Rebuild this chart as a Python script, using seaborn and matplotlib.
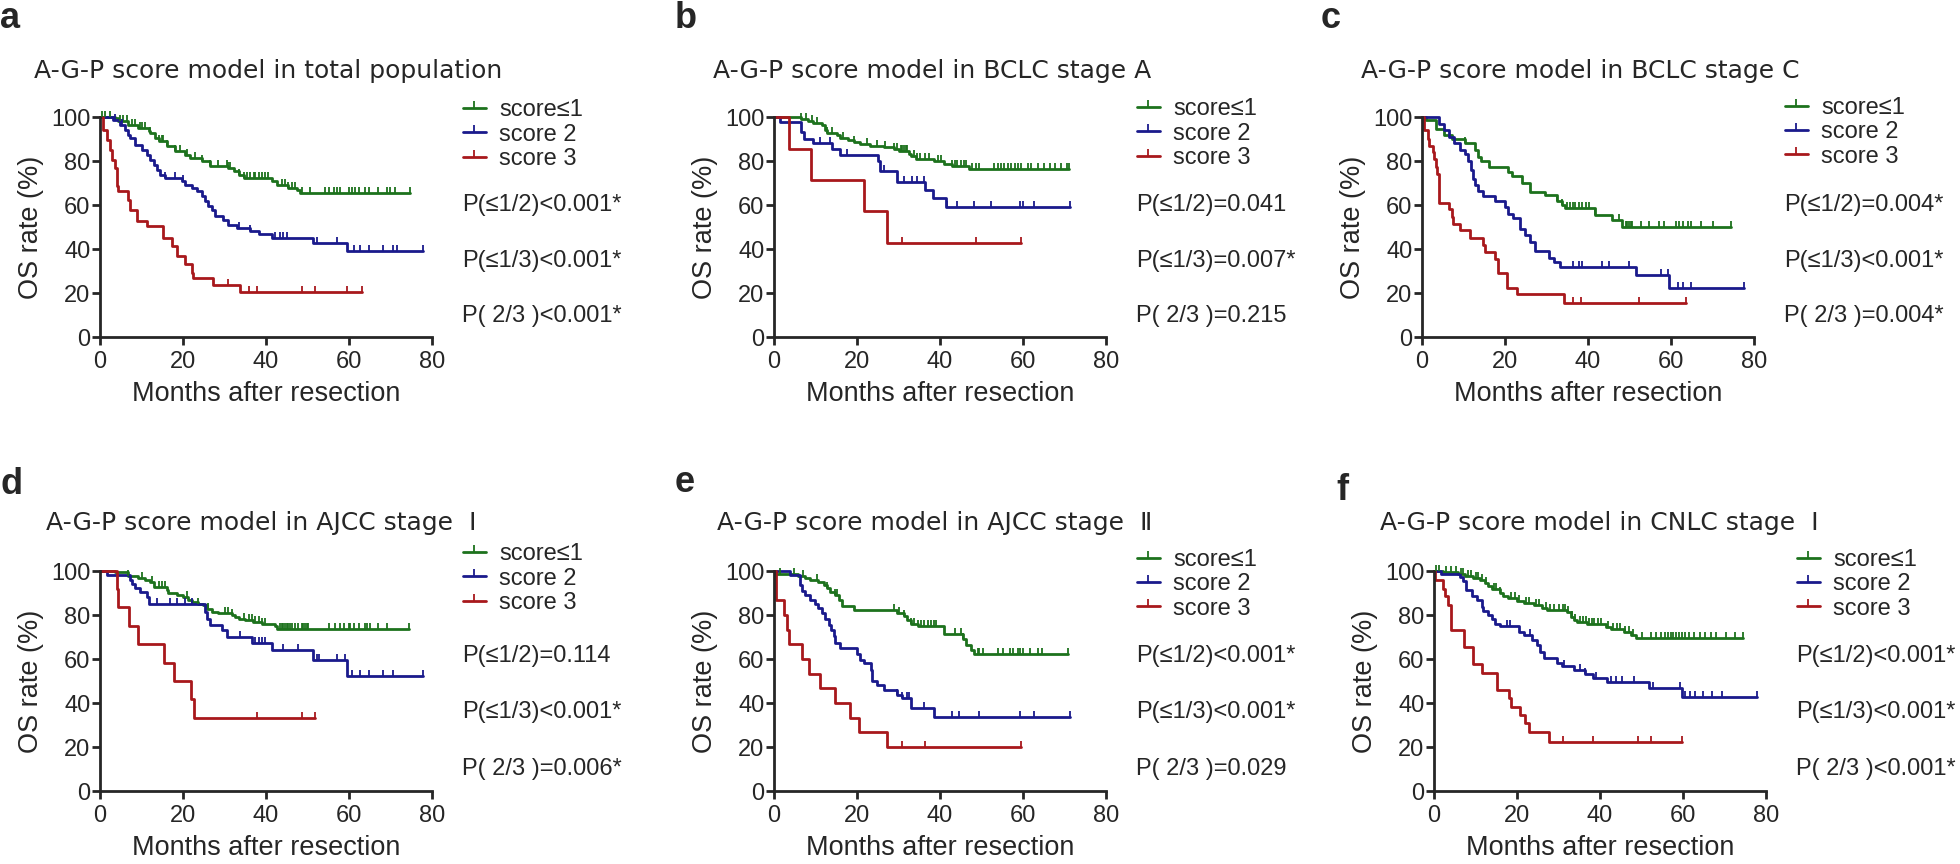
import numpy as np
import pandas as pd
import matplotlib.pyplot as plt
from matplotlib.lines import Line2D
import seaborn as sns

# ---- data (months, OS %) ----
GROUPS = ["score\u22641", "score 2", "score 3"]
COLORS = ["#1d721d", "#1a1a8c", "#a8181c"]

# a: total population
a_g1_t = [0, 3.6, 4.4, 6.8, 9.2, 11.7, 12.1, 13.3, 14.1, 16.1, 18.1, 20.5, 21.7, 24.5, 26.5, 30.9, 32.2, 33.4, 34.6, 41.4, 42.6, 45.4, 47.4, 48.2, 74.6]
a_g1_s = [100, 99.5, 98, 96.5, 95, 93.5, 92.7, 90.5, 89, 86.7, 84.4, 82.9, 81.4, 79.9, 77.6, 76.9, 75.3, 73.8, 72.3, 70.8, 69.3, 67.8, 66.7, 65.5, 65.5]
a_g1_c = [0.4, 1.2, 2.4, 4.8, 5.6, 6.4, 7.6, 8.4, 9.6, 10.0, 10.9, 12.1, 14.1, 14.9, 15.3, 16.1, 18.1, 19.3, 20.9, 22.9, 24.5, 26.5, 28.5, 30.5, 30.9, 31.4, 33.4, 34.6, 35.4, 36.2, 37.0, 37.4, 38.2, 39.0, 39.8, 40.6, 43.8, 44.6, 45.4, 46.2, 47.0, 48.6, 50.6, 54.3, 55.1, 56.3, 57.1, 57.9, 59.9, 60.7, 61.5, 62.3, 63.9, 64.7, 67.1, 69.1, 69.9, 71.1, 74.6]
a_g2_t = [0, 3.2, 4.8, 6, 6.8, 7.2, 8.4, 10, 11.3, 12, 12.9, 13.7, 14.5, 15.7, 19.7, 20.5, 22.1, 23.3, 24.5, 25.3, 26.1, 26.9, 27.7, 29.7, 30.9, 33, 36.2, 38.2, 41.4, 51.4, 59.5, 77.8]
a_g2_s = [100, 98.8, 96.5, 94.3, 92, 90.5, 87.4, 85.2, 82.9, 80.6, 78.4, 76.1, 73.8, 72.3, 70.8, 69.3, 67.8, 66.3, 64, 61.7, 59.5, 57.9, 54.9, 53.4, 51.1, 49.6, 48.1, 46.6, 45.1, 42.8, 39, 39]
a_g2_c = [3.6, 5.2, 15.7, 18.1, 20.1, 33.4, 36.2, 42.2, 43.4, 44.2, 45.0, 52.3, 57.1, 61.1, 62.7, 64.7, 68.3, 70.7, 71.5, 77.8]
a_g3_t = [0, 0.8, 1.6, 2.4, 2.8, 3.6, 4.0, 4.4, 6.8, 7.2, 8.8, 11.3, 15.3, 17.3, 18.5, 20.5, 22.1, 22.5, 27.3, 33.8, 63.1]
a_g3_s = [100, 94.3, 89.7, 85.2, 80.6, 76.9, 68.5, 66.3, 62.5, 57.9, 52.6, 50.4, 45.1, 41.3, 36.8, 33, 29.2, 26.6, 23.6, 20.4, 20.4]
a_g3_c = [30.9, 35.8, 37.9, 48.6, 51.8, 59.5, 63.1]

# b: BCLC stage A
b_g1_t = [0, 6.6, 8.2, 9.5, 11.5, 12.3, 12.7, 15.1, 15.9, 17.9, 19.2, 20.8, 23.2, 26.4, 28.9, 30.1, 32.5, 32.9, 34.1, 38.6, 41, 43, 47, 71.2]
b_g1_s = [100, 99.2, 98.2, 97.2, 96.2, 94.3, 92.7, 92, 90.5, 89.4, 88.7, 87.7, 87, 86.2, 85.5, 84.4, 83.4, 82.1, 81.1, 79.9, 78.8, 77.6, 76.4, 76.4]
b_g1_c = [6.6, 7.8, 9.1, 10.3, 12.7, 13.9, 16.7, 19.2, 22.4, 24.8, 26.8, 28.9, 29.7, 30.5, 30.9, 31.3, 31.7, 32.1, 33.7, 34.5, 35.3, 36.5, 37.3, 39.4, 40.2, 43.0, 43.6, 44.2, 45.0, 45.8, 46.2, 47.8, 48.7, 49.5, 53.1, 53.9, 54.7, 55.5, 56.3, 57.2, 58.0, 58.8, 59.6, 61.2, 62.0, 63.5, 65.0, 66.6, 67.6, 69.2, 70.7, 71.2]
b_g2_t = [0, 1.4, 6.6, 7.2, 9.5, 13.9, 15.8, 25, 25.6, 29.7, 36.5, 38.2, 41.4, 71.4]
b_g2_s = [100, 97.5, 93, 90.2, 88, 85.5, 82.7, 79.9, 75.3, 70.4, 66.6, 63.1, 59.2, 59.2]
b_g2_c = [11.1, 13.5, 17.5, 26.4, 31.3, 33.3, 34.5, 36.1, 41.8, 44.2, 48.2, 52.3, 59.3, 60.0, 62.6, 71.4]
b_g3_t = [0, 3.6, 8.9, 21.7, 27.2, 59.5]
b_g3_s = [100, 85.5, 71.3, 57.1, 42.8, 42.8]
b_g3_c = [30.9, 48.7, 59.5]

# c: BCLC stage C
c_g1_t = [0, 1, 3.4, 5.4, 7.2, 10.3, 12.7, 13.5, 14.3, 16.1, 20.8, 21.6, 24, 26, 29.7, 32.5, 33.7, 34.5, 41.8, 45.8, 48.3, 74.4]
c_g1_s = [100, 98.6, 94.5, 92, 90, 88, 85, 82, 80, 77.5, 75, 73, 70, 66, 64.5, 62, 60, 58.5, 55.5, 53, 50.2, 50.2]
c_g1_c = [10.3, 32.5, 33.7, 34.9, 35.7, 36.5, 36.9, 37.8, 38.6, 39.4, 40.2, 41.8, 47.5, 49.1, 49.5, 49.9, 50.3, 50.7, 52.7, 54.7, 57.2, 58.4, 61.2, 62.0, 62.8, 64.0, 64.8, 67.3, 70.1, 74.4]
c_g2_t = [0, 4.2, 5.4, 6.6, 7.8, 9.1, 10.3, 11.1, 11.9, 12.3, 12.7, 13.5, 14.7, 17.5, 20, 20.8, 22, 23.6, 24.8, 26, 27.2, 30.5, 31.7, 33.3, 51.5, 59.6, 77.6]
c_g2_s = [100, 97, 94, 91, 88, 85, 83, 80, 76, 72, 69, 66.5, 64, 62, 59, 56, 54, 49, 46.5, 43, 39, 36, 34, 32, 28, 22.5, 22.5]
c_g2_c = [36.5, 37.8, 38.6, 43.4, 45.0, 49.9, 57.6, 59.2, 61.6, 62.8, 64.8, 77.6]
c_g3_t = [0, 0.6, 1.4, 1.8, 2.6, 3, 3.4, 3.6, 4, 4.2, 6.6, 7.2, 7.4, 9.1, 11.5, 14.7, 15.3, 17.5, 18.2, 20.6, 22.8, 34.1, 63.5]
c_g3_s = [100, 94, 90, 87, 84, 81, 77.5, 74, 68, 61, 58, 54.5, 51.5, 48.5, 45, 42, 38.5, 35.5, 29, 22.5, 19.5, 15.5, 15.5]
c_g3_c = [36.3, 38.2, 52.3, 63.5]

# d: AJCC stage I
d_g1_t = [0, 3.6, 6.8, 9.2, 10.9, 12, 12.9, 16.1, 16.5, 18.5, 20.1, 21.3, 22.1, 23.7, 24.9, 25.7, 26.9, 28.5, 31.8, 32.6, 33.4, 35, 36.8, 39, 42.2, 42.6, 74.4]
d_g1_s = [100, 99.5, 97.9, 97, 95.9, 94.8, 92.8, 91.3, 89.8, 89, 88, 87, 86, 85.2, 84.5, 82.6, 81.4, 80.7, 79.9, 79.1, 78.4, 77.6, 76.9, 76.1, 74.9, 73.8, 73.8]
d_g1_c = [6.8, 10.0, 12.5, 14.1, 14.9, 15.7, 20.9, 23.7, 26.1, 30.1, 30.9, 31.8, 34.6, 35.8, 36.6, 37.4, 38.2, 39.0, 39.8, 43.4, 43.8, 44.2, 44.6, 45.0, 45.4, 45.8, 46.2, 47.0, 47.8, 48.6, 49.0, 49.4, 49.8, 50.2, 55.1, 56.7, 57.9, 58.7, 59.9, 60.3, 61.1, 62.3, 63.9, 64.3, 65.1, 67.1, 69.1, 74.4]
d_g2_t = [0, 1.8, 7.2, 7.6, 8.4, 9.6, 11.3, 11.7, 25.3, 25.7, 26.5, 29.3, 30.5, 36.6, 41.4, 51.4, 59.5, 77.8]
d_g2_s = [100, 98, 95.9, 93.9, 92.1, 90.6, 88.3, 84.8, 81.4, 78.4, 75.3, 73.1, 70, 67.3, 63.9, 59.7, 52.2, 52.2]
d_g2_c = [13.7, 16.9, 18.5, 20.5, 22.1, 33.8, 37.4, 38.2, 39.0, 39.8, 44.2, 47.8, 52.3, 52.7, 57.1, 59.1, 60.7, 62.7, 64.7, 68.3, 70.7, 77.8]
d_g3_t = [0, 4, 4.3, 7.1, 9.1, 15.5, 17.9, 21.9, 22.6, 51.8]
d_g3_s = [100, 92, 83.7, 75, 66.7, 58.3, 49.9, 41.6, 33.3, 33.3]
d_g3_c = [37.9, 48.6, 51.8]

# e: AJCC stage II
e_g1_t = [0, 0.6, 5.9, 7.5, 8.7, 10.5, 12, 12.8, 13.6, 14.8, 15.6, 16.4, 19.2, 29.7, 31.3, 32.1, 33, 34.6, 41, 45.5, 46.3, 47.5, 48.3, 70.9]
e_g1_s = [100, 98.5, 97.6, 96.8, 95.7, 94.8, 93.6, 92.1, 90.6, 89, 86.8, 84.2, 82.5, 81, 79.5, 77.6, 75.9, 74.9, 71.5, 69.3, 66.2, 63.9, 62.4, 62.4]
e_g1_c = [1.5, 4.7, 7.1, 10.3, 12.8, 14.8, 15.2, 28.9, 30.1, 31.3, 33.0, 33.8, 34.6, 35.4, 36.2, 37.0, 37.8, 38.6, 39.0, 43.5, 45.1, 45.5, 49.1, 49.5, 50.3, 54.0, 55.2, 56.8, 57.6, 58.8, 59.2, 60.0, 61.6, 63.6, 64.6, 70.9]
e_g2_t = [0, 3.9, 6.3, 6.7, 7.5, 8.7, 9.9, 10.7, 11.6, 12.4, 13.2, 13.7, 14.4, 14.8, 16, 20, 20.8, 21.6, 23.3, 23.7, 24.9, 26.5, 29.7, 30.9, 33, 38.6, 71.3]
e_g2_s = [100, 98, 93.6, 90.9, 89, 86.8, 84.8, 83, 80.7, 78.4, 75.3, 73.1, 70.3, 67.3, 65.1, 62.4, 59.7, 58.1, 54.8, 50.2, 48.2, 46, 43.8, 42.2, 37.6, 33.8, 33.8]
e_g2_c = [29.7, 30.9, 32.1, 32.5, 36.2, 42.8, 44.6, 49.4, 59.2, 62.6, 71.3]
e_g3_t = [0, 0.5, 2.3, 3.1, 3.7, 6.7, 8.5, 11.1, 14.8, 18.3, 20.4, 27.3, 59.6]
e_g3_s = [100, 86.7, 80, 73.3, 66.7, 60, 53.3, 46.7, 40, 33.3, 26.7, 20, 20]
e_g3_c = [30.9, 36.3, 59.6]

# f: CNLC stage I
f_g1_t = [0, 2.2, 5.8, 7.4, 9.5, 11.1, 12.3, 13.1, 13.9, 15.9, 16.7, 17.9, 20, 21.6, 24, 26, 27.2, 32.1, 32.9, 33.7, 34.5, 36.9, 41.4, 42.6, 45.8, 47.4, 48.7, 74.5]
f_g1_s = [100, 99.4, 98.5, 97.6, 96.8, 96, 94.5, 93, 92, 90, 88.6, 87.8, 86.5, 85.5, 84.4, 83, 82.3, 81.2, 79.3, 77.8, 76.6, 76, 74.6, 73.5, 72.3, 71.1, 69.6, 69.6]
f_g1_c = [0.4, 1.2, 2.8, 4.0, 5.2, 6.4, 7.0, 8.2, 8.8, 10.0, 10.6, 11.6, 12.6, 14.4, 15.0, 16.0, 18.6, 19.4, 20.6, 22.2, 23.0, 24.6, 25.4, 27.0, 28.0, 29.0, 30.0, 31.0, 31.6, 32.4, 33.2, 34.0, 35.2, 36.0, 36.6, 37.4, 38.0, 38.6, 39.4, 40.2, 42.0, 43.2, 44.0, 44.8, 46.0, 47.0, 48.0, 50.2, 52.4, 53.6, 54.8, 55.6, 56.4, 57.0, 57.6, 58.4, 59.0, 59.8, 60.6, 61.4, 62.6, 64.0, 65.4, 66.8, 68.0, 70.4, 72.6, 74.5]
f_g2_t = [0, 1.8, 6.2, 7, 7.8, 9.1, 10.3, 11.5, 11.9, 13.1, 13.9, 14.7, 15.9, 20.4, 21.6, 23.6, 24.8, 25.6, 26.4, 29.7, 30.9, 33.7, 36.5, 38.2, 41.8, 51.9, 59.7, 77.8]
f_g2_s = [100, 98.5, 97.3, 95.4, 91.3, 88.7, 86.8, 83.7, 81.7, 80.2, 78.4, 76.1, 74.9, 72.4, 70.8, 68.5, 66.2, 63.2, 60.6, 58.3, 56.6, 54.8, 53.3, 51.3, 49.5, 46.9, 42.9, 42.9]
f_g2_c = [17.5, 18.4, 23.2, 31.3, 35.3, 36.5, 39.0, 42.6, 43.8, 45.4, 48.3, 52.7, 59.2, 60.4, 61.6, 62.8, 64.8, 66.9, 69.3, 77.8]
f_g3_t = [0, 0.3, 2.2, 2.6, 3.4, 4.2, 7.2, 9.3, 11.5, 15.1, 18, 18.5, 20.8, 22, 22.8, 27.6, 59.7]
f_g3_s = [100, 96, 92, 88.5, 84.6, 73.1, 65.4, 57.7, 53.6, 46.1, 42.2, 38.4, 34.6, 30.7, 26.9, 22.5, 22.5]
f_g3_c = [31.1, 38.2, 49.1, 52.3, 59.7]

TITLES = ["A-G-P score model in total population",
          "A-G-P score model in BCLC stage A",
          "A-G-P score model in BCLC stage C",
          "A-G-P score model in AJCC stage  \u2160",
          "A-G-P score model in AJCC stage  \u2161",
          "A-G-P score model in CNLC stage  \u2160"]
LETTERS = ["a", "b", "c", "d", "e", "f"]
PVALUES = [["P(\u22641/2)<0.001*", "P(\u22641/3)<0.001*", "P( 2/3 )<0.001*"],
           ["P(\u22641/2)=0.041", "P(\u22641/3)=0.007*", "P( 2/3 )=0.215"],
           ["P(\u22641/2)=0.004*", "P(\u22641/3)<0.001*", "P( 2/3 )=0.004*"],
           ["P(\u22641/2)=0.114", "P(\u22641/3)<0.001*", "P( 2/3 )=0.006*"],
           ["P(\u22641/2)<0.001*", "P(\u22641/3)<0.001*", "P( 2/3 )=0.029"],
           ["P(\u22641/2)<0.001*", "P(\u22641/3)<0.001*", "P( 2/3 )<0.001*"]]

PANELS = [
    [(a_g1_t, a_g1_s, a_g1_c), (a_g2_t, a_g2_s, a_g2_c), (a_g3_t, a_g3_s, a_g3_c)],
    [(b_g1_t, b_g1_s, b_g1_c), (b_g2_t, b_g2_s, b_g2_c), (b_g3_t, b_g3_s, b_g3_c)],
    [(c_g1_t, c_g1_s, c_g1_c), (c_g2_t, c_g2_s, c_g2_c), (c_g3_t, c_g3_s, c_g3_c)],
    [(d_g1_t, d_g1_s, d_g1_c), (d_g2_t, d_g2_s, d_g2_c), (d_g3_t, d_g3_s, d_g3_c)],
    [(e_g1_t, e_g1_s, e_g1_c), (e_g2_t, e_g2_s, e_g2_c), (e_g3_t, e_g3_s, e_g3_c)],
    [(f_g1_t, f_g1_s, f_g1_c), (f_g2_t, f_g2_s, f_g2_c), (f_g3_t, f_g3_s, f_g3_c)],
]

# ---- layout (pixels of the 1960x864 canvas) ----
W, H = 1960, 864
AX_LEFT = [100, 774, 1422, 100, 774, 1434]
AX_TOP = [117, 117, 117, 571, 571, 571]
AX_W, AX_H = 332, 220
TITLE_XY = [(34, 78), (713, 78), (1361, 78), (46, 530), (717, 530), (1380, 530)]
LETTER_XY = [(0, 28), (675, 28), (1321, 28), (0, 494), (675, 492), (1336, 500)]
LEG_Y = [0.92, 0.924, 0.93, 0.965, 0.94, 0.94]
P_Y = [[0.60, 0.345, 0.095]] * 3 + [[0.615, 0.36, 0.10]] * 3

sns.set_style("ticks")
plt.rcParams["font.family"] = ["Liberation Sans", "Noto Sans CJK SC", "DejaVu Sans"]
plt.rcParams["axes.linewidth"] = 2


def draw_panel(ax, curves):
    for (t, s, cens), color in zip(curves, COLORS):
        df = pd.DataFrame({"month": t, "os": s})
        sns.lineplot(data=df, x="month", y="os", ax=ax, color=color,
                     drawstyle="steps-post", estimator=None, sort=False,
                     linewidth=2.0, clip_on=False, zorder=2)
        # censor ticks sit on the step curve
        t_arr = np.asarray(t)
        s_arr = np.asarray(s)
        idx = np.searchsorted(t_arr, cens, side="right") - 1
        sns.scatterplot(x=cens, y=s_arr[idx], ax=ax, marker=2, s=18,
                        color=color, linewidth=1.3, clip_on=False, zorder=3)


fig = plt.figure(figsize=(W / 100, H / 100), dpi=100)

for i in range(6):
    left = AX_LEFT[i] / W
    bottom = 1 - (AX_TOP[i] + AX_H) / H
    ax = fig.add_axes([left, bottom, AX_W / W, AX_H / H])
    draw_panel(ax, PANELS[i])

    ax.set_xlim(0, 80)
    ax.set_ylim(0, 100)
    ax.set_xticks([0, 20, 40, 60, 80])
    ax.set_yticks([0, 20, 40, 60, 80, 100])
    sns.despine(ax=ax)
    ax.tick_params(width=2, length=6, labelsize=17, direction="out")
    ax.tick_params(axis="x", pad=4)
    ax.tick_params(axis="y", pad=1)
    ax.set_xlabel("Months after resection", fontsize=19.5)
    ax.set_ylabel("OS rate (%)", fontsize=19.5)
    ax.xaxis.set_label_coords(0.5, -0.2)
    ax.yaxis.set_label_coords(-0.17, 0.5)

    handles = [Line2D([], [], color=c, lw=2.0, marker=2, markersize=5, mew=1.3)
               for c in COLORS]
    ax.legend(handles, GROUPS, loc="center left", bbox_to_anchor=(1.092, LEG_Y[i]),
              frameon=False, fontsize=17, handlelength=1.0, handletextpad=0.55,
              labelspacing=0.1, borderpad=0, borderaxespad=0, numpoints=1)

    for txt, y in zip(PVALUES[i], P_Y[i]):
        ax.text(1.09, y, txt, transform=ax.transAxes, fontsize=17,
                va="center", ha="left")

    # titles are set in a wider face than the axis text
    tx, ty = TITLE_XY[i]
    fig.text(tx / W, 1 - ty / H, TITLES[i], fontsize=18, va="baseline", ha="left",
             family=["DejaVu Sans", "Noto Sans CJK SC"])
    lx, ly = LETTER_XY[i]
    fig.text(lx / W, 1 - ly / H, LETTERS[i], fontsize=26, fontweight="bold",
             va="baseline", ha="left")

fig.savefig("out.png", dpi=100)
